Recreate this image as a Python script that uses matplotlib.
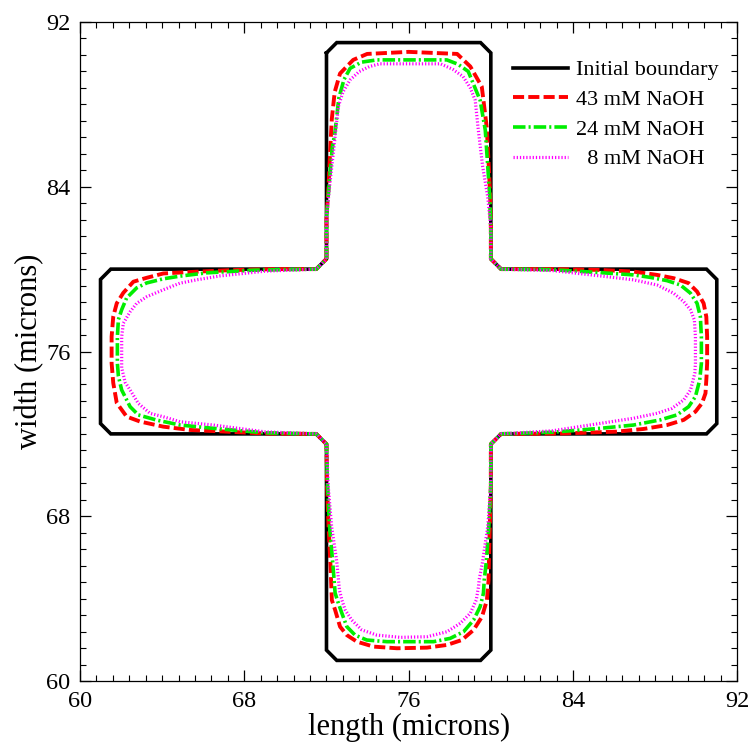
import matplotlib
matplotlib.use("Agg")
import matplotlib.pyplot as plt
from matplotlib.ticker import MultipleLocator

plt.rcParams['font.family'] = ['Liberation Serif', 'DejaVu Serif']
plt.rcParams['lines.scale_dashes'] = False

# initial (mask) boundary of the cross, microns
initial_boundary = [
    (72, 90.5), (72.5, 91), (79.5, 91), (80, 90.5), (80, 80.5), (80.5, 80),
    (90.5, 80), (91, 79.5), (91, 72.5), (90.5, 72), (80.5, 72), (80, 71.5),
    (80, 61.5), (79.5, 61), (72.5, 61), (72, 61.5), (72, 71.5), (71.5, 72),
    (61.5, 72), (61, 72.5), (61, 79.5), (61.5, 80), (71.5, 80), (72, 80.5),
    (72, 90.5),
]

# etched contours (clockwise from top-left junction)
naoh_43 = [
    (72.0, 80.5), (72.0, 82.5), (72.1, 84.0), (72.18, 85.8), (72.26, 87.3), (72.4, 88.6),
    (72.66, 89.5), (73.3, 90.16), (73.98, 90.45), (76.0, 90.55), (78.36, 90.45), (79.0, 89.84),
    (79.56, 88.86), (79.8, 86.9), (79.9, 85.0), (79.97, 83.5), (80.0, 82.0), (80.0, 80.5),
    (80.5, 80.0), (83.0, 80.0), (85.33, 79.96), (86.95, 79.88), (88.09, 79.72), (88.9, 79.56),
    (89.63, 79.32), (90.04, 78.91), (90.36, 78.34), (90.49, 77.69), (90.53, 76.72), (90.53, 75.43),
    (90.5, 74.78), (90.45, 73.97), (90.28, 73.49), (89.96, 73.08), (89.39, 72.68), (88.58, 72.43),
    (87.44, 72.24), (86.14, 72.11), (83.5, 72.02), (80.5, 72.0), (80.0, 71.5), (80.0, 69.5),
    (79.95, 67.5), (79.9, 65.5), (79.89, 64.9), (79.81, 63.93), (79.57, 63.12), (79.16, 62.48),
    (78.59, 61.99), (77.86, 61.75), (76.89, 61.62), (75.43, 61.59), (74.29, 61.67), (73.48, 61.91),
    (72.99, 62.23), (72.66, 62.64), (72.42, 63.45), (72.26, 63.93), (72.2, 65.5), (72.1, 67.5),
    (72.03, 69.5), (72.0, 71.5), (71.5, 72.0), (69.0, 72.02), (67.31, 72.1), (65.36, 72.19),
    (64.06, 72.35), (62.92, 72.6), (62.27, 72.84), (61.79, 73.5), (61.62, 74.47), (61.54, 75.43),
    (61.54, 76.72), (61.62, 77.7), (61.79, 78.34), (62.11, 78.85), (62.6, 79.39), (63.25, 79.58),
    (64.06, 79.79), (65.36, 79.86), (67.31, 79.95), (69.5, 80.0), (71.5, 80.0), (72.0, 80.5),
]

naoh_24 = [
    (72.0, 80.5), (72.0, 82.5), (72.12, 84.0), (72.27, 85.8), (72.42, 86.7), (72.6, 88.3),
    (72.85, 89.2), (73.15, 89.75), (73.7, 90.05), (74.45, 90.16), (77.86, 90.16), (78.4, 89.95),
    (78.9, 89.6), (79.48, 88.2), (79.73, 86.75), (79.85, 85.0), (79.95, 83.5), (80.0, 82.0),
    (80.0, 80.5), (80.5, 80.0), (83.0, 79.97), (85.33, 79.83), (86.95, 79.72), (87.76, 79.6),
    (88.58, 79.44), (89.23, 79.23), (89.72, 78.83), (90.04, 78.34), (90.2, 77.69), (90.25, 76.72),
    (90.25, 75.43), (90.17, 74.62), (89.96, 73.81), (89.63, 73.32), (89.06, 72.92), (88.25, 72.68),
    (86.95, 72.43), (85.33, 72.27), (83.0, 72.08), (80.5, 72.0), (80.0, 71.5), (80.0, 69.5),
    (79.9, 67.5), (79.78, 65.8), (79.68, 64.9), (79.64, 64.26), (79.48, 63.61), (79.16, 62.96),
    (78.67, 62.39), (78.02, 62.07), (77.21, 61.91), (74.94, 61.91), (73.96, 61.99), (73.39, 62.23),
    (72.99, 62.64), (72.75, 63.29), (72.58, 63.77), (72.42, 64.27), (72.3, 65.8), (72.15, 67.5),
    (72.05, 69.5), (72.0, 71.5), (71.5, 72.0), (69.0, 72.05), (66.49, 72.27), (64.87, 72.43),
    (63.73, 72.67), (62.84, 72.92), (62.44, 73.32), (62.03, 74.13), (61.87, 74.8), (61.82, 75.43),
    (61.82, 76.72), (61.87, 77.55), (62.03, 78.03), (62.27, 78.6), (62.76, 79.09), (63.25, 79.33),
    (64.06, 79.53), (64.87, 79.66), (66.17, 79.82), (68.5, 79.95), (71.5, 80.0), (72.0, 80.5),
]

naoh_8 = [
    (72.0, 80.5), (72.0, 82.5), (72.15, 84.0), (72.35, 85.8), (72.58, 87.9), (72.8, 88.6),
    (73.15, 89.19), (73.6, 89.6), (74.1, 89.84), (74.6, 89.97), (77.55, 89.97), (78.15, 89.7),
    (78.65, 89.35), (79.0, 88.8), (79.24, 88.2), (79.39, 86.76), (79.6, 85.0), (79.85, 83.5),
    (80.0, 82.0), (80.0, 80.5), (80.5, 80.0), (83.0, 79.93), (85.33, 79.67), (86.95, 79.48),
    (88.09, 79.23), (88.9, 78.83), (89.39, 78.42), (89.72, 78.02), (89.91, 77.53), (89.96, 76.72),
    (89.96, 75.43), (89.93, 74.94), (89.72, 74.13), (89.39, 73.65), (88.82, 73.24), (88.09, 73.0),
    (86.95, 72.76), (85.33, 72.51), (83.0, 72.15), (80.5, 72.0), (80.0, 71.5), (80.0, 69.5),
    (79.85, 67.5), (79.6, 65.8), (79.43, 64.9), (79.4, 64.58), (79.29, 63.93), (79.0, 63.29),
    (78.51, 62.8), (77.86, 62.39), (76.89, 62.15), (75.59, 62.12), (74.45, 62.23), (73.72, 62.48),
    (73.23, 62.96), (72.91, 63.45), (72.75, 63.93), (72.63, 64.42), (72.5, 65.8), (72.25, 67.5),
    (72.08, 69.5), (72.0, 71.5), (71.5, 72.0), (69.0, 72.1), (66.49, 72.43), (64.87, 72.59),
    (64.06, 72.83), (63.41, 73.0), (62.84, 73.48), (62.44, 74.13), (62.2, 74.5), (62.03, 75.2),
    (62.03, 76.72), (62.11, 77.37), (62.44, 77.93), (62.76, 78.34), (63.25, 78.66), (64.06, 79.0),
    (64.87, 79.32), (65.68, 79.48), (66.82, 79.67), (69.0, 79.9), (71.5, 80.0), (72.0, 80.5),
]

labels = ['Initial boundary', '43 mM NaOH', '24 mM NaOH', '  8 mM NaOH']
major_ticks = [60, 68, 76, 84, 92]

fig = plt.figure(figsize=(7.56, 7.51), dpi=100)
ax = fig.add_axes([0.1058, 0.0932, 0.8695, 0.8775])

x, y = zip(*initial_boundary)
ax.plot(x, y, color='black', lw=2.6, solid_joinstyle='miter', label=labels[0])
x, y = zip(*naoh_43)
ax.plot(x, y, color='red', lw=2.8, dashes=(8, 3), label=labels[1])
x, y = zip(*naoh_24)
ax.plot(x, y, color='#00ee00', lw=2.6, dashes=(9, 2.2, 1.5, 2.2), label=labels[2])
x, y = zip(*naoh_8)
ax.plot(x, y, color='magenta', lw=2.3, dashes=(0.9, 1.4), label=labels[3])

ax.set_xlim(60, 92)
ax.set_ylim(60, 92)
ax.set_xticks(major_ticks)
ax.set_yticks(major_ticks)
ax.xaxis.set_minor_locator(MultipleLocator(0.8))
ax.yaxis.set_minor_locator(MultipleLocator(0.8))
ax.tick_params(which='both', direction='in', top=True, right=True, labelsize=17.5)
ax.tick_params(which='major', length=8, width=0.9, pad=7)
ax.tick_params(which='minor', length=4, width=0.8)
for s in ax.spines.values():
    s.set_linewidth(0.9)

ax.set_xlabel('length (microns)', fontsize=22, labelpad=1)
ax.set_ylabel('width (microns)', fontsize=22, labelpad=1)

ax.legend(loc='upper right', bbox_to_anchor=(0.985, 0.956), frameon=False, fontsize=16,
          handlelength=2.5, handletextpad=0.35, labelspacing=0.41, borderaxespad=0)

fig.savefig('out.png', dpi=100)
